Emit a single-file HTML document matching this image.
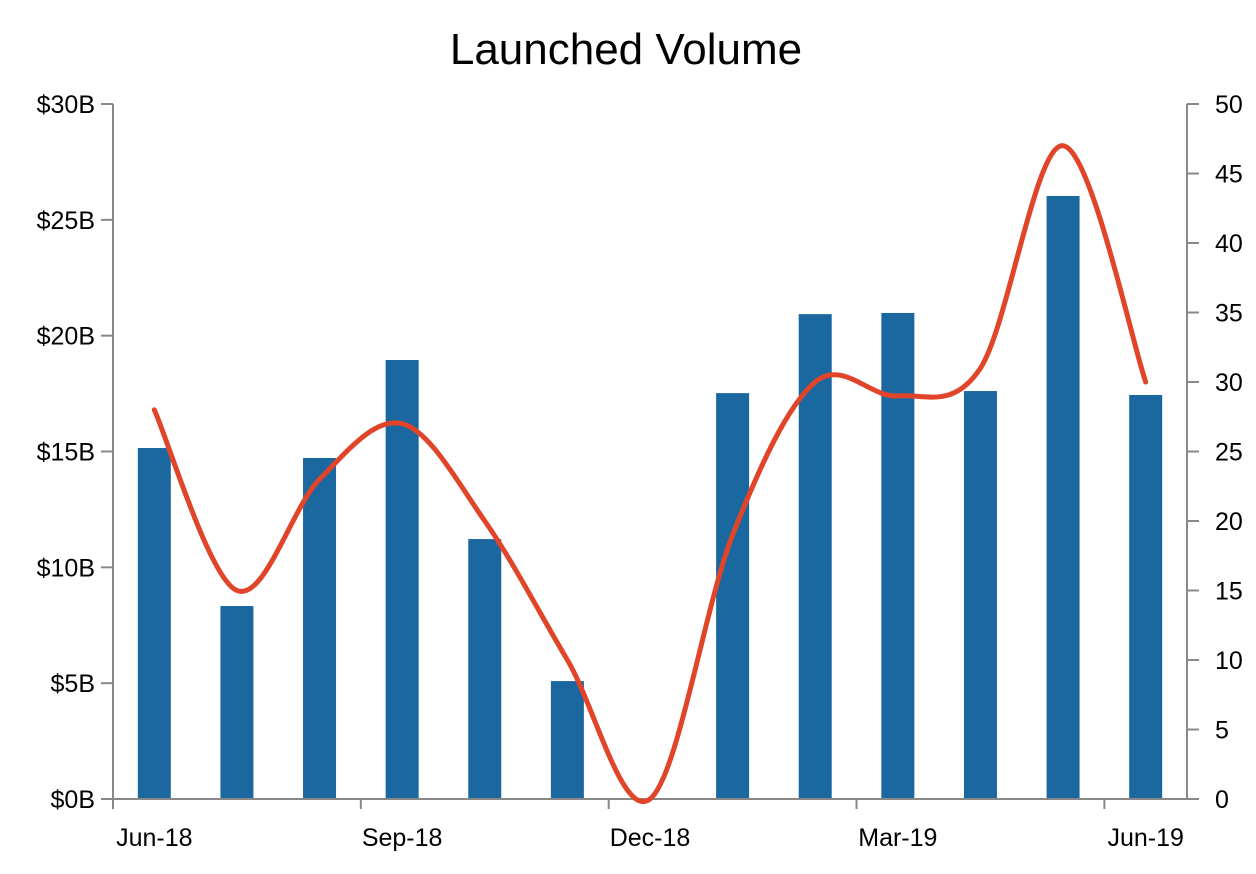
<!DOCTYPE html>
<html><head><meta charset="utf-8"><style>
body{margin:0;background:#fff;}
svg{display:block;font-family:"Liberation Sans",sans-serif;}
</style></head><body>
<svg id="chart" width="1256" height="874">
<text x="626" y="64" text-anchor="middle" font-size="44" fill="#000">Launched Volume</text>
<g id="bars"></g><g id="axes"></g><g id="line"></g>
</svg>
<script>
const categories=["Jun-18","Jul-18","Aug-18","Sep-18","Oct-18","Nov-18","Dec-18","Jan-19","Feb-19","Mar-19","Apr-19","May-19","Jun-19"];
const volumeB=[15.15,8.33,14.72,18.95,11.22,5.09,0,17.52,20.93,20.98,17.61,26.03,17.44];
const countLine=[28,15,23,27,20,10,0,19,30,29,31,47,30];
const leftTicks=["$0B","$5B","$10B","$15B","$20B","$25B","$30B"];
const leftTickValues=[0,5,10,15,20,25,30];
const rightTickValues=[0,5,10,15,20,25,30,35,40,45,50];
const xLabelIdx=[0,3,6,9,12];
const NS="http://www.w3.org/2000/svg";
const X0=113,X1=1187,Y0=799,Y1=104;
const band=(X1-X0)/categories.length;
const xc=i=>X0+band*(i+0.5);
const yL=v=>Y0-(Y0-Y1)*v/30;
const yR=v=>Y0-(Y0-Y1)*v/50;
function mk(tag,attrs,parent){const e=document.createElementNS(NS,tag);for(const k in attrs)e.setAttribute(k,attrs[k]);parent.appendChild(e);return e;}
const bars=document.getElementById('bars'),axes=document.getElementById('axes'),lineG=document.getElementById('line');
volumeB.forEach((v,i)=>{
 const r=mk('rect',{x:xc(i)-16.5,y:yL(v),width:33,height:Y0-yL(v),fill:'#1b67a0'},bars);
 
 
});
const ax='#888';
mk('line',{x1:X0,y1:Y1,x2:X0,y2:Y0,stroke:ax,'stroke-width':2},axes);
mk('line',{x1:X1,y1:Y1,x2:X1,y2:Y0,stroke:ax,'stroke-width':2},axes);
mk('line',{x1:X0,y1:Y0,x2:X1,y2:Y0,stroke:ax,'stroke-width':2},axes);
leftTickValues.forEach((v,i)=>{
 mk('line',{x1:X0-12,y1:yL(v),x2:X0,y2:yL(v),stroke:ax,'stroke-width':2},axes);
 const t=mk('text',{x:X0-18,y:yL(v)+9,'text-anchor':'end','font-size':25},axes);
 t.textContent=leftTicks[i];
 
 
});
rightTickValues.forEach(v=>{
 mk('line',{x1:X1,y1:yR(v),x2:X1+12,y2:yR(v),stroke:ax,'stroke-width':2},axes);
 const t=mk('text',{x:X1+28,y:yR(v)+9,'text-anchor':'start','font-size':25},axes);
 t.textContent=String(v);
 
 
});
xLabelIdx.forEach(i=>{
 const tx=X0+band*i;
 mk('line',{x1:tx,y1:Y0,x2:tx,y2:Y0+10,stroke:ax,'stroke-width':2},axes);
 const t=mk('text',{x:xc(i),y:846,'text-anchor':'middle','font-size':25},axes);
 t.textContent=categories[i];
 
 
});
const pts=countLine.map((v,i)=>[xc(i),yR(v)]);
let d='M'+pts[0][0]+','+pts[0][1];
for(let i=0;i<pts.length-1;i++){
 const p0=pts[Math.max(i-1,0)],p1=pts[i],p2=pts[i+1],p3=pts[Math.min(i+2,pts.length-1)];
 const c1=[p1[0]+(p2[0]-p0[0])/6,p1[1]+(p2[1]-p0[1])/6];
 const c2=[p2[0]-(p3[0]-p1[0])/6,p2[1]-(p3[1]-p1[1])/6];
 d+=' C'+c1+' '+c2+' '+p2;
}
const path=mk('path',{d:d,fill:'none',stroke:'#e0452a','stroke-width':5,'stroke-linecap':'round'},lineG);


</script>
</body></html>
